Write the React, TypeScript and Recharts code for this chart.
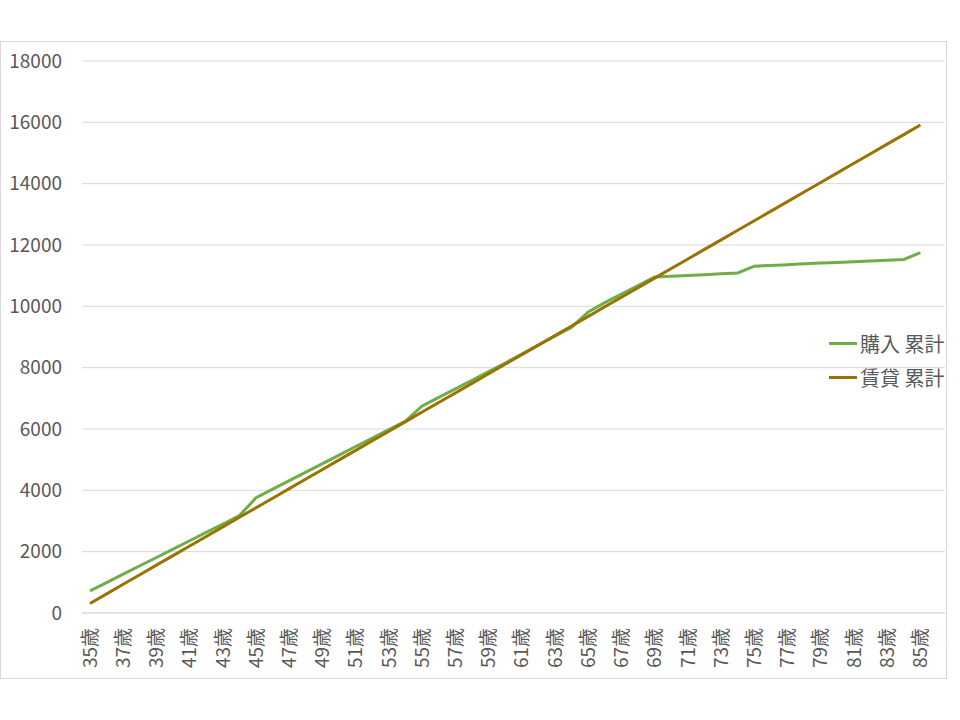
import { LineChart, Line, XAxis, YAxis, CartesianGrid } from "recharts";

// 年齢 35〜85歳 (最後の86歳は空の区分)
const ages = [
  35, 36, 37, 38, 39, 40, 41, 42, 43, 44, 45, 46, 47, 48, 49, 50, 51, 52, 53, 54,
  55, 56, 57, 58, 59, 60, 61, 62, 63, 64, 65, 66, 67, 68, 69, 70, 71, 72, 73, 74,
  75, 76, 77, 78, 79, 80, 81, 82, 83, 84, 85, 86,
];

// 購入 累計
const buyTotal = [
  720, 990, 1265, 1540, 1810, 2085, 2355, 2630, 2900, 3175,
  3760, 4040, 4315, 4595, 4870, 5150, 5430, 5705, 5985, 6260,
  6750, 7030, 7310, 7590, 7870, 8150, 8440, 8740, 9030, 9320,
  9820, 10120, 10400, 10680, 10960, 10980, 11005, 11030, 11060, 11090,
  11310, 11335, 11360, 11385, 11410, 11430, 11455, 11480, 11505, 11530,
  11750, null,
];

// 賃貸 累計
const rentTotal = [
  312, 624, 936, 1248, 1560, 1872, 2184, 2496, 2808, 3120,
  3432, 3744, 4056, 4368, 4680, 4992, 5304, 5616, 5928, 6240,
  6552, 6864, 7176, 7488, 7800, 8112, 8424, 8736, 9048, 9360,
  9672, 9984, 10296, 10608, 10920, 11232, 11544, 11856, 12168, 12480,
  12792, 13104, 13416, 13728, 14040, 14352, 14664, 14976, 15288, 15600,
  15912, null,
];

const yTicks = [0, 2000, 4000, 6000, 8000, 10000, 12000, 14000, 16000, 18000];

const GREEN = "#70AD47";
const BROWN = "#9A7200";
const TEXT = "#595959";
const GRID = "#D9D9D9";
const FONT = '"Noto Sans CJK JP", "Noto Sans", sans-serif';

const data = ages.map((a, i) => ({
  age: `${a}歳`,
  buy: buyTotal[i],
  rent: rentTotal[i],
}));

const legendItems = [
  { name: "購入 累計", color: GREEN },
  { name: "賃貸 累計", color: BROWN },
];

function AgeTick(props: any) {
  const { x, y, payload } = props;
  return (
    <text
      transform={`translate(${x},${y + 7}) rotate(-90)`}
      textAnchor="end"
      dy="0.35em"
      fill={TEXT}
      fontSize={19}
      fontFamily={FONT}
    >
      {payload.value}
    </text>
  );
}

export default function App() {
  return (
    <div
      style={{
        position: "absolute",
        left: 0,
        top: 0,
        width: 960,
        height: 720,
        background: "#fff",
      }}
    >
      <div
        style={{
          position: "absolute",
          left: 0,
          top: 41,
          width: 945,
          height: 636,
          border: `1px solid ${GRID}`,
        }}
      />
      <div style={{ position: "absolute", left: 0, top: 0 }}>
        <LineChart
          width={960}
          height={720}
          data={data}
          margin={{ top: 61, right: 15, bottom: 0, left: 0 }}
        >
          <CartesianGrid vertical={false} stroke={GRID} strokeWidth={1} />
          <XAxis
            dataKey="age"
            interval={1}
            tick={<AgeTick />}
            tickLine={false}
            axisLine={{ stroke: GRID }}
            padding={{ left: 8, right: 8 }}
            height={107}
          />
          <YAxis
            domain={[0, 18000]}
            ticks={yTicks}
            axisLine={false}
            tickLine={false}
            width={82}
            tickMargin={14}
            tick={{ fill: TEXT, fontSize: 19, fontFamily: FONT }}
          />
          <Line
            type="linear"
            dataKey="buy"
            name="購入 累計"
            stroke={GREEN}
            strokeWidth={3}
            dot={false}
            isAnimationActive={false}
          />
          <Line
            type="linear"
            dataKey="rent"
            name="賃貸 累計"
            stroke={BROWN}
            strokeWidth={3}
            dot={false}
            isAnimationActive={false}
          />
        </LineChart>
      </div>
      <div style={{ position: "absolute", left: 829, top: 326, fontFamily: FONT }}>
        {legendItems.map((it) => (
          <div key={it.name} style={{ display: "flex", alignItems: "center", height: 34 }}>
            <div style={{ width: 28, height: 3, background: it.color, marginRight: 3 }} />
            <span style={{ color: TEXT, fontSize: 20, whiteSpace: "nowrap" }}>{it.name}</span>
          </div>
        ))}
      </div>
    </div>
  );
}
